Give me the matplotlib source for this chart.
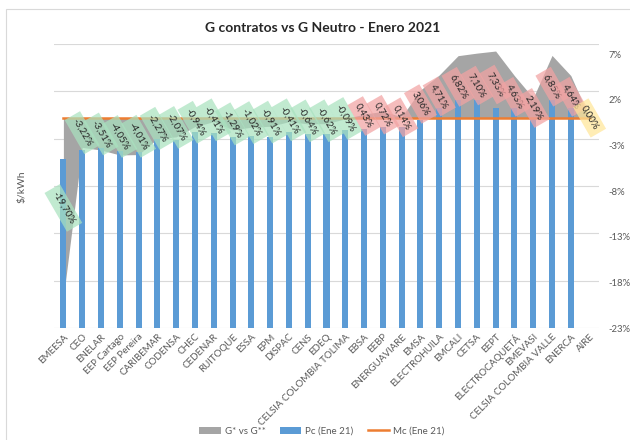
import matplotlib
matplotlib.use("Agg")
import matplotlib.pyplot as plt
import matplotlib.transforms as mtransforms
from matplotlib.patches import Patch, Rectangle
from matplotlib.lines import Line2D

plt.rcParams['font.family'] = ['Lato', 'DejaVu Sans']

categories = ["EMEESA", "CEO", "ENELAR", "EEP Cartago", "EEP Pereira", "CARIBEMAR",
              "CODENSA", "CHEC", "CEDENAR", "RUITOQUE", "ESSA", "EPM", "DISPAC", "CENS",
              "EDEQ", "CELSIA COLOMBIA TOLIMA", "EBSA", "EEBP", "ENERGUAVIARE", "EMSA",
              "ELECTROHUILA", "EMCALI", "CETSA", "EEPT", "ELECTROCAQUETÁ", "EMEVASI",
              "CELSIA COLOMBIA VALLE", "ENERCA", "AIRE"]

gap_pct = [-19.70, -3.22, -3.51, -4.05, -4.01, -2.27, -2.07, -0.94, -0.41, -1.29,
           -1.02, -0.91, -0.41, -0.64, -0.62, -0.09, 0.43, 0.72, 0.14, 3.06,
           4.71, 6.82, 7.10, 7.33, 4.63, 2.19, 6.85, 4.64, 0.00]

pc_values = [178.5, 188, 190, 187, 186, 200, 199, 207, 206, 202,
             203, 202, 207, 205, 205, 209, 210, 212, 212, 220,
             232, 241, 241, 232, 232, 222, 241, 232, 0]

mc_value = 222.0

pct_ticks = [-23, -18, -13, -8, -3, 2, 7]
grid_vals = [0, 50, 100, 150, 200, 250, 300]

W, H = 630, 440
fig = plt.figure(figsize=(W / 100, H / 100), dpi=100)

left, right, top, bottom = 54, 599, 44, 328
ax_p = fig.add_axes([left / W, 1 - bottom / H, (right - left) / W, (bottom - top) / H])
ax_b = ax_p.twinx()

n = len(categories)
x = list(range(n))

ax_p.set_xlim(-0.5, n - 0.5)
ax_p.set_ylim(-23, 8.1)
ax_b.set_ylim(0, 300)

blend = mtransforms.blended_transform_factory(ax_p.transAxes, ax_b.transData)
for v in grid_vals:
    ax_p.plot([0, 1], [v, v], transform=blend, color='#d9d9d9', lw=0.8, zorder=0)

ax_p.fill_between(x, gap_pct, 0, color='#a5a5a5', lw=0, zorder=1)

ax_p.yaxis.tick_right()
ax_p.set_yticks(pct_ticks)
ax_p.set_yticklabels([f"{t}%" for t in pct_ticks], fontsize=6.8, color='#595959')
ax_p.tick_params(axis='y', length=0, pad=7)
ax_p.set_xticks(x)
ax_p.set_xticklabels(categories, rotation=45, ha='right', rotation_mode='anchor',
                     fontsize=7, color='#595959')
ax_p.tick_params(axis='x', length=0, pad=3)
for s in ax_p.spines.values():
    s.set_visible(False)

ax_b.bar(x, pc_values, width=0.32, color='#5b9bd5', zorder=2)
ax_b.plot([x[0], x[-1]], [mc_value, mc_value], color='#ed7d31', lw=1.8, zorder=3)
ax_b.set_yticks([])
for s in ax_b.spines.values():
    s.set_visible(False)

for xi, p in zip(x, gap_pct):
    if p < 0:
        fc = '#a9e2bf'
    elif p > 0:
        fc = '#f2a3a3'
    else:
        fc = '#ffe699'
    txt = f"{p:.2f}%".replace('.', ',')
    ax_b.text(xi, p / 2, txt, transform=ax_p.transData, rotation=-60,
              rotation_mode='anchor', ha='center', va='center', fontsize=7,
              color='#262626', zorder=5,
              bbox=dict(boxstyle='square,pad=0.45', fc=fc, ec='none', alpha=0.72))

fig.text(22 / W, 1 - 187 / H, "$/kWh", rotation=90, ha='center', va='center',
         fontsize=7.5, color='#595959')

fig.text(0.512, 1 - 28 / H, "G contratos vs G Neutro - Enero 2021", ha='center',
         va='center', fontsize=10, fontweight='bold', color='#262626')

handles = [Patch(facecolor='#a5a5a5', edgecolor='none'),
           Patch(facecolor='#5b9bd5', edgecolor='none'),
           Line2D([0], [0], color='#ed7d31', lw=1.8)]
fig.legend(handles, ["G* vs G**", "Pc (Ene 21)", "Mc (Ene 21)"], loc='center',
           bbox_to_anchor=(322 / W, 1 - 431 / H), ncol=3, frameon=False, fontsize=7,
           handlelength=2.2, handleheight=0.7, columnspacing=1.5, handletextpad=0.4,
           labelcolor='#595959')

fig.patches.append(Rectangle((6 / W, -0.1), 1.2, 1 - 9 / H + 0.1, transform=fig.transFigure,
                             fill=False, ec='#d9d9d9', lw=0.8))

fig.savefig("out.png", dpi=100)
